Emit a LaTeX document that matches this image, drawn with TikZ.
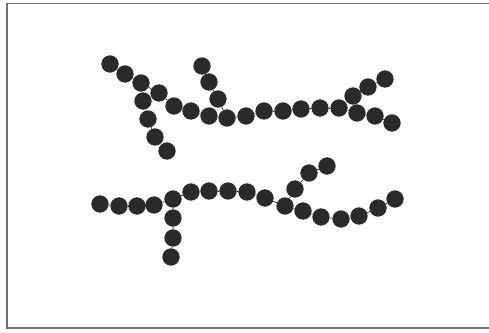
\documentclass[tikz,border=0pt]{standalone}
\usepackage{xcolor}
\usepackage{tikz}

\definecolor{beadgray}{HTML}{2A2A2A}
\definecolor{framegray}{HTML}{707070}

\begin{document}
\begin{tikzpicture}[x=0.03cm,y=-0.03cm,
    bead/.style={circle,fill=beadgray,inner sep=0pt,minimum size=0.52cm},
    link/.style={black,line width=0.5pt}]

\useasboundingbox (0,0) rectangle (489,332);

% ---------- frame ----------
\draw[framegray,line width=0.9pt] (489,3.5) -- (7,3.5) -- (7,328) -- (489,328);

% ---------- upper chain ----------
\foreach \px/\py [count=\i] in {110/64,125/74,141/83,159/93,174/106,191/111,209/116,227/118,
    246/116,264/111,283/111,301/109,320/108,339/108,357/113,375/116,392/123}{
    \node[bead] (u\i) at (\px,\py) {};
}
\foreach \i [count=\j from 2] in {1,...,16}{
    \draw[link] (u\i) -- (u\j);
}

% branch down from u3
\foreach \px/\py [count=\i] in {143/101,148/119,155/137,167/151}{
    \node[bead] (a\i) at (\px,\py) {};
}
\draw[link] (u3) -- (a1) -- (a2) -- (a3) -- (a4);

% branch up from u8
\foreach \px/\py [count=\i] in {218/99,209/82,202/66}{
    \node[bead] (b\i) at (\px,\py) {};
}
\draw[link] (u8) -- (b1) -- (b2) -- (b3);

% branch up from u14
\foreach \px/\py [count=\i] in {353/96,368/87,385/79}{
    \node[bead] (c\i) at (\px,\py) {};
}
\draw[link] (u14) -- (c1) -- (c2) -- (c3);

% ---------- lower chain ----------
\foreach \px/\py [count=\i] in {100/204,119/206,137/206,154/205,173/199,191/192,209/191,228/191,
    247/192,265/198,285/206,303/211,321/217,341/219,359/216,378/208,395/199}{
    \node[bead] (l\i) at (\px,\py) {};
}
\foreach \i [count=\j from 2] in {1,...,16}{
    \draw[link] (l\i) -- (l\j);
}

% branch down from l5
\foreach \px/\py [count=\i] in {173/218,173/238,171/257}{
    \node[bead] (d\i) at (\px,\py) {};
}
\draw[link] (l5) -- (d1) -- (d2) -- (d3);

% branch up from l11
\foreach \px/\py [count=\i] in {295/189,309/173,327/166}{
    \node[bead] (e\i) at (\px,\py) {};
}
\draw[link] (l11) -- (e1) -- (e2) -- (e3);

\end{tikzpicture}
\end{document}
